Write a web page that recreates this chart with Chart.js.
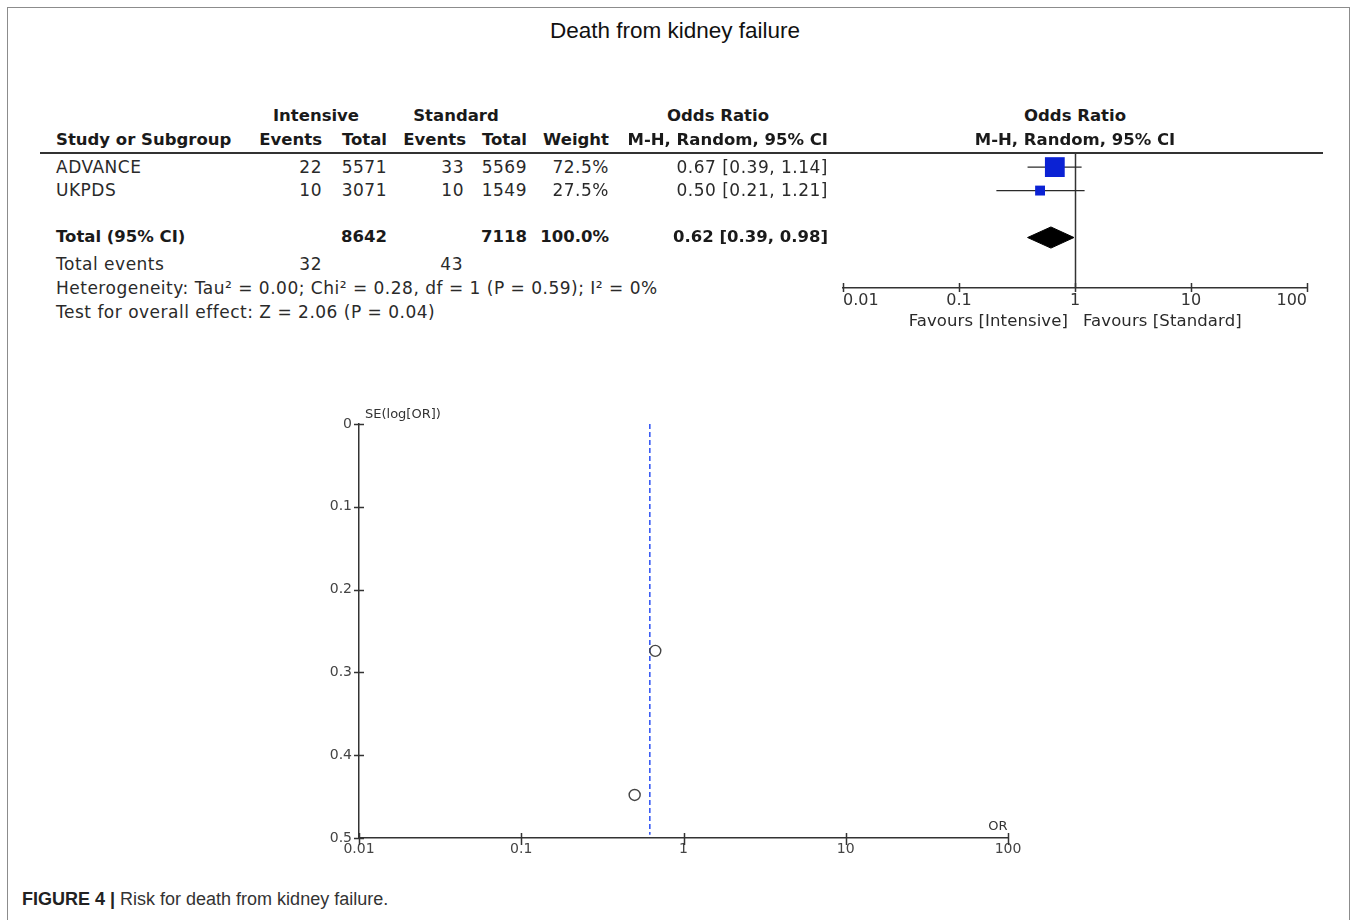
<!DOCTYPE html>
<html>
<head>
<meta charset="utf-8">
<title>Death from kidney failure</title>
<script src="https://cdn.jsdelivr.net/npm/chart.js@4.4.1/dist/chart.umd.min.js"></script>
<style>
  html, body { margin: 0; padding: 0; background: #fff; }
  body { width: 1358px; height: 920px; position: relative; overflow: hidden; font-family: "DejaVu Sans", sans-serif; color: #222; }
  #frame { position: absolute; left: 7px; top: 7px; width: 1343px; height: 980px; border: 1px solid #8c8c8c; box-sizing: border-box; }
  #rule { position: absolute; left: 40px; top: 152px; width: 1283px; border-top: 2px solid #333; }
  .txt { position: absolute; white-space: nowrap; line-height: 20px; font-size: 17px; letter-spacing: 0.5px; color: #2a2a2a; }
  .b { font-weight: bold; font-size: 16.5px; letter-spacing: 0; color: #1a1a1a; }
  .fav { font-size: 16.5px; letter-spacing: 0.1px; }
  .small { font-size: 13px; letter-spacing: 0; color: #333; }
  .sans { font-family: "Liberation Sans", Arial, sans-serif; letter-spacing: 0; }
  #title { font-size: 22.5px; color: #111; }
  #caption { position: absolute; left: 22px; top: 889px; font-family: "Liberation Sans", Arial, sans-serif; font-size: 18px; color: #333; white-space: nowrap; }
  #caption b { color: #222; }
  .box { position: absolute; }
</style>
</head>
<body>
<div id="frame"></div>
<div id="rule"></div>
<div class="box" style="left:823px;top:133px;width:504px;height:200px"><canvas id="forest"></canvas></div>
<div class="box" style="left:300px;top:404px;width:740px;height:460px"><canvas id="funnel"></canvas></div>
<div id="caption"><b>FIGURE 4 |</b> Risk for death from kidney failure.</div>
<script>
// study data
const studies = ['ADVANCE', 'UKPDS'];
const intEvents = [22, 10];
const intTotal = [5571, 3071];
const stdEvents = [33, 10];
const stdTotal = [5569, 1549];
const weights = [72.5, 27.5];
const orEst = [0.67, 0.50];
const orLow = [0.39, 0.21];
const orHigh = [1.14, 1.21];
const seLogOR = [0.274, 0.448];

// pooled result: low, estimate, high
const pooledOR = [0.39, 0.62, 0.98];
const totalN = [8642, 7118];
const totalEvents = [32, 43];
const heterogeneity = 'Heterogeneity: Tau\u00b2 = 0.00; Chi\u00b2 = 0.28, df = 1 (P = 0.59); I\u00b2 = 0%';
const overallTest = 'Test for overall effect: Z = 2.06 (P = 0.04)';

const orTicks = [0.01, 0.1, 1, 10, 100];
const seTicks = [0, 0.1, 0.2, 0.3, 0.4, 0.5];

function put(text, x, y, align, cls) {
  const d = document.createElement('div');
  d.className = 'txt' + (cls ? ' ' + cls : '');
  d.textContent = text;
  d.style.left = x + 'px';
  d.style.top = y + 'px';
  const tx = align === 'r' ? '-100%' : align === 'c' ? '-50%' : '0';
  d.style.transform = 'translate(' + tx + ', -50%)';
  document.body.appendChild(d);
  return d;
}

const fmtCI = (e, l, h) => e.toFixed(2) + ' [' + l.toFixed(2) + ', ' + h.toFixed(2) + ']';

// title + table
put('Death from kidney failure', 675, 31, 'c', 'sans').id = 'title';

put('Intensive', 316, 116, 'c', 'b');
put('Standard', 456, 116, 'c', 'b');
put('Odds Ratio', 718, 116, 'c', 'b');
put('Odds Ratio', 1075, 116, 'c', 'b');
put('Study or Subgroup', 56, 140, 'l', 'b');
put('Events', 322, 140, 'r', 'b');
put('Total', 387, 140, 'r', 'b');
put('Events', 466, 140, 'r', 'b');
put('Total', 527, 140, 'r', 'b');
put('Weight', 609, 140, 'r', 'b');
put('M-H, Random, 95% CI', 828, 140, 'r', 'b');
put('M-H, Random, 95% CI', 1075, 140, 'c', 'b');

studies.forEach((s, i) => {
  const y = 167 + i * 23.3;
  put(s, 56, y, 'l');
  put(String(intEvents[i]), 322, y, 'r');
  put(String(intTotal[i]), 387, y, 'r');
  put(String(stdEvents[i]), 464, y, 'r');
  put(String(stdTotal[i]), 527, y, 'r');
  put(weights[i].toFixed(1) + '%', 609, y, 'r');
  put(fmtCI(orEst[i], orLow[i], orHigh[i]), 828, y, 'r');
});

const wSum = weights.reduce((a, b) => a + b, 0);
put('Total (95% CI)', 56, 237, 'l', 'b');
put(String(totalN[0]), 387, 237, 'r', 'b');
put(String(totalN[1]), 527, 237, 'r', 'b');
put(wSum.toFixed(1) + '%', 609, 237, 'r', 'b');
put(fmtCI(pooledOR[1], pooledOR[0], pooledOR[2]), 828, 237, 'r', 'b');
put('Total events', 56, 264, 'l');
put(String(totalEvents[0]), 322, 264, 'r');
put(String(totalEvents[1]), 463, 264, 'r');
put(heterogeneity, 56, 288, 'l');
put(overallTest, 56, 312, 'l');

put('Favours [Intensive]', 1068, 321, 'r', 'fav');
put('Favours [Standard]', 1083, 321, 'l', 'fav');
put('SE(log[OR])', 365, 414, 'l', 'small');
put('OR', 998, 826, 'c', 'small');

Chart.defaults.font.family = '"DejaVu Sans", sans-serif';
Chart.defaults.color = '#333';

// tick marks that cross the axis line, placed with the chart's own scales
const crossTicks = {
  id: 'crossTicks',
  afterDraw(chart, args, opts) {
    const {ctx, chartArea} = chart;
    ctx.save();
    ctx.strokeStyle = opts.color || '#333';
    ctx.lineWidth = 1.5;
    Object.values(chart.scales).forEach(scale => {
      const len = opts[scale.id];
      if (!len || !scale.options.display) return;
      scale.ticks.forEach(t => {
        const p = Math.round(scale.getPixelForValue(t.value)) + 0.5;
        ctx.beginPath();
        if (scale.isHorizontal()) {
          ctx.moveTo(p, chartArea.bottom - len[0]);
          ctx.lineTo(p, chartArea.bottom + len[1]);
        } else {
          ctx.moveTo(chartArea.left - len[0], p);
          ctx.lineTo(chartArea.left + len[1], p);
        }
        ctx.stroke();
      });
    });
    ctx.restore();
  }
};

// line of no effect (OR = 1) in the forest plot
const nullLine = {
  id: 'nullLine',
  beforeDatasetsDraw(chart, args, opts) {
    const {ctx, chartArea, scales} = chart;
    const x = Math.round(scales.x.getPixelForValue(opts.value)) + 0.5;
    ctx.save();
    ctx.strokeStyle = '#333';
    ctx.lineWidth = 1.5;
    ctx.beginPath();
    ctx.moveTo(x, chartArea.top);
    ctx.lineTo(x, chartArea.bottom);
    ctx.stroke();
    ctx.restore();
  }
};

const logTicks = s => { s.ticks = orTicks.map(v => ({value: v})); };

// forest plot
const rows = studies.map((s, i) => i + 1);
const totalRow = studies.length + 2;
const diamondHalf = 0.45;

const whiskers = studies.map((s, i) => ({
  type: 'line',
  data: [{x: orLow[i], y: rows[i]}, {x: orHigh[i], y: rows[i]}],
  borderColor: '#2a2a2a',
  borderWidth: 1.3,
  pointRadius: 0
}));

new Chart(document.getElementById('forest'), {
  type: 'scatter',
  data: {
    datasets: [
      {
        data: studies.map((s, i) => ({x: orEst[i], y: rows[i]})),
        pointStyle: 'rect',
        pointRadius: [14, 7],
        pointHoverRadius: [14, 7],
        backgroundColor: '#0b22d4',
        borderWidth: 0
      },
      {
        type: 'line',
        data: [
          {x: pooledOR[0], y: totalRow},
          {x: pooledOR[1], y: totalRow - diamondHalf},
          {x: pooledOR[2], y: totalRow},
          {x: pooledOR[1], y: totalRow + diamondHalf},
          {x: pooledOR[0], y: totalRow}
        ],
        fill: 'shape',
        backgroundColor: '#000',
        borderColor: '#000',
        borderWidth: 1,
        pointRadius: 0,
        tension: 0
      },
      ...whiskers
    ]
  },
  options: {
    responsive: true,
    maintainAspectRatio: false,
    animation: false,
    layout: {padding: {left: 20, right: 20, top: 20, bottom: 0}},
    plugins: {
      legend: {display: false},
      tooltip: {enabled: false},
      crossTicks: {x: [5, 4]},
      nullLine: {value: 1}
    },
    scales: {
      x: {
        type: 'logarithmic',
        min: 0.01,
        max: 100,
        afterBuildTicks: logTicks,
        afterFit: s => { s.height = 45; },
        grid: {display: false, drawTicks: false},
        border: {display: true, color: '#333', width: 1.5},
        ticks: {
          align: 'inner',
          padding: 3,
          color: '#333',
          font: {size: 16},
          maxRotation: 0,
          autoSkip: false,
          callback: v => String(v)
        }
      },
      y: {type: 'linear', min: 0.4, max: 6.15, reverse: true, display: false}
    }
  },
  plugins: [crossTicks, nullLine]
});

// funnel plot
new Chart(document.getElementById('funnel'), {
  type: 'scatter',
  data: {
    datasets: [
      {
        data: studies.map((s, i) => ({x: orEst[i], y: seLogOR[i]})),
        pointStyle: 'circle',
        pointRadius: 5.5,
        pointHoverRadius: 5.5,
        borderColor: '#444',
        borderWidth: 1.4,
        backgroundColor: 'rgba(255,255,255,0)'
      },
      {
        type: 'line',
        data: [{x: pooledOR[1], y: seTicks[0]}, {x: pooledOR[1], y: seTicks[seTicks.length - 1] - 0.004}],
        borderColor: '#3a5cf4',
        borderWidth: 1.6,
        borderDash: [5, 3],
        pointRadius: 0
      }
    ]
  },
  options: {
    responsive: true,
    maintainAspectRatio: false,
    animation: false,
    layout: {padding: {left: 19, right: 32, top: 20, bottom: 6}},
    plugins: {
      legend: {display: false},
      tooltip: {enabled: false},
      crossTicks: {x: [5, 7], y: [5, 5]}
    },
    scales: {
      x: {
        type: 'logarithmic',
        min: 0.01,
        max: 100,
        afterBuildTicks: logTicks,
        afterFit: s => { s.height = 20; },
        grid: {display: false, drawTicks: false},
        border: {display: true, color: '#333', width: 1.5},
        ticks: {
          padding: 3,
          color: '#444',
          font: {size: 14},
          maxRotation: 0,
          autoSkip: false,
          callback: v => String(v)
        }
      },
      y: {
        type: 'linear',
        min: 0,
        max: 0.5,
        reverse: true,
        afterBuildTicks: s => { s.ticks = seTicks.map(v => ({value: v})); },
        afterFit: s => { s.width = 40; },
        grid: {display: false, drawTicks: false},
        border: {display: true, color: '#333', width: 1.5},
        ticks: {
          padding: 7,
          color: '#444',
          font: {size: 14},
          callback: v => String(v)
        }
      }
    }
  },
  plugins: [crossTicks]
});
</script>
</body>
</html>
